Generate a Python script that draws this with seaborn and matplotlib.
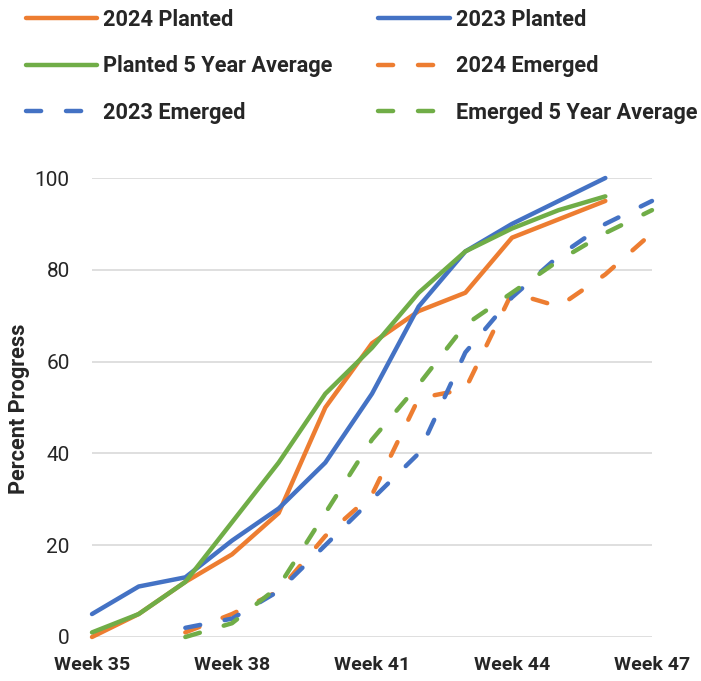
import numpy as np
import pandas as pd
import matplotlib
matplotlib.use("Agg")
import matplotlib.pyplot as plt
import seaborn as sns

# weeks on the x axis
weeks = list(range(35, 48))
week_ticks = [35, 38, 41, 44, 47]
y_ticks = [0, 20, 40, 60, 80, 100]

nan = np.nan
planted_2024 = [0, 5, 12, 18, 27, 50, 64, 71, 75, 87, 91, 95, nan]
planted_2023 = [5, 11, 13, 21, 28, 38, 53, 72, 84, 90, 95, 100, nan]
planted_avg = [1, 5, 12, 25, 38, 53, 63, 75, 84, 89, 93, 96, nan]
emerged_2024 = [nan, nan, 1, 5, 10, 22, 31, 52, 54, 75, 72, 79, 88]
emerged_2023 = [nan, nan, 2, 4, 10, 20, 30, 40, 62, 74, 83, 90, 95]
emerged_avg = [nan, nan, 0, 3, 11, 27, 43, 55, 68, 75, 82, 88, 93]

ORANGE = "#ED7D31"
BLUE = "#4472C4"
GREEN = "#70AD47"

sns.set_theme(style="white")
plt.rcParams["font.family"] = ["Roboto", "DejaVu Sans"]

fig = plt.figure(figsize=(7.01, 6.81), dpi=100)
ax = fig.add_axes([92 / 701, 44 / 681, 560 / 701, 459 / 681])

series = [
    ("2024 Planted", planted_2024, ORANGE, False),
    ("2023 Planted", planted_2023, BLUE, False),
    ("Planted 5 Year Average", planted_avg, GREEN, False),
    ("2024 Emerged", emerged_2024, ORANGE, True),
    ("2023 Emerged", emerged_2023, BLUE, True),
    ("Emerged 5 Year Average", emerged_avg, GREEN, True),
]

handles = {}
for name, vals, color, dashed in series:
    df = pd.DataFrame({"week": weeks, "pct": vals}).dropna()
    sns.lineplot(data=df, x="week", y="pct", ax=ax, color=color,
                 linewidth=3.2, label=name, legend=False, clip_on=False,
                 solid_capstyle="round", dash_capstyle="round")
    line = ax.lines[-1]
    if dashed:
        line.set_dashes((3.4, 5.6))
    handles[name] = line

ax.set_xlim(35, 47)
ax.set_ylim(0, 100)
ax.set_xticks(week_ticks)
ax.set_xticklabels([f"Week {w}" for w in week_ticks], fontweight="bold",
                   fontsize=14)
ax.set_yticks(y_ticks)
ax.set_yticklabels([str(v) for v in y_ticks], fontsize=15)
ax.tick_params(axis="x", length=0, pad=14)
ax.tick_params(axis="y", length=0, pad=16)
ax.yaxis.grid(True, color="#D9D9D9", linewidth=1.2)
ax.xaxis.grid(False)
for s in ax.spines.values():
    s.set_visible(False)
ax.set_xlabel("")
ax.set_ylabel("Percent Progress", fontweight="bold", fontsize=15.7)
ax.yaxis.set_label_coords(-0.111, 0.497)

order = ["2024 Planted", "Planted 5 Year Average", "2023 Emerged",
         "2023 Planted", "2024 Emerged", "Emerged 5 Year Average"]
fig.legend([handles[n] for n in order], order, ncol=2, loc="upper left",
           bbox_to_anchor=(6 / 701, 1 + 11 / 681), frameon=False,
           prop={"weight": "bold", "size": 15.7}, handlelength=3.26,
           handletextpad=0.3, columnspacing=2.1, labelspacing=1.13)

fig.savefig("out.png", dpi=100)
